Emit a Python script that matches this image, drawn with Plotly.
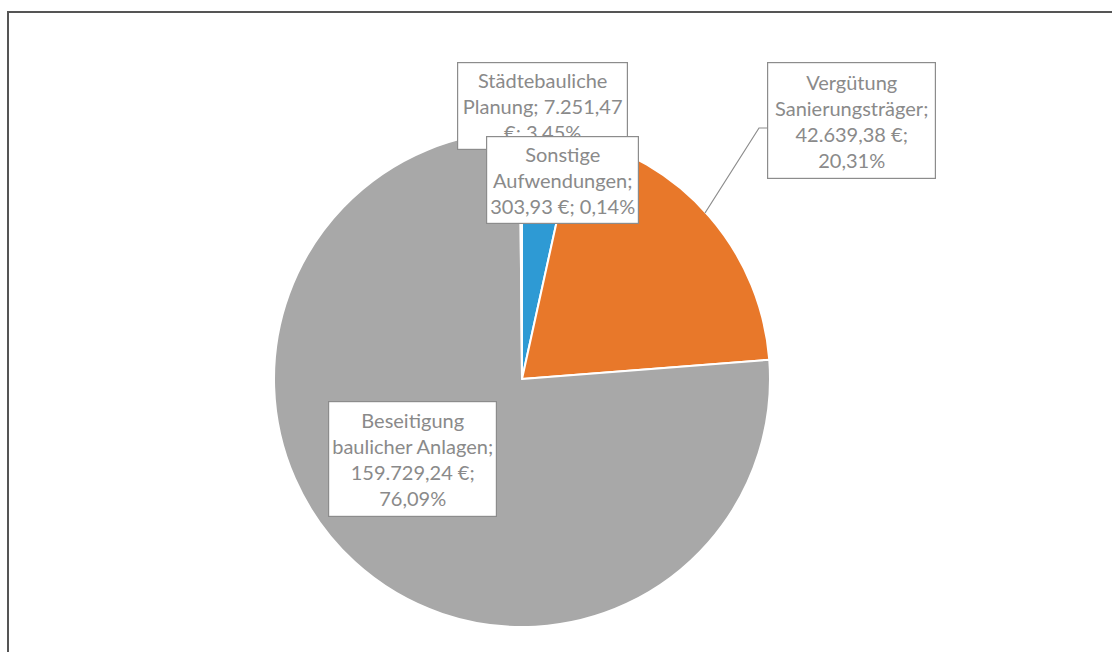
import plotly.graph_objects as go

# ---- data ----
categories = ["Städtebauliche Planung", "Vergütung Sanierungsträger",
              "Beseitigung baulicher Anlagen", "Sonstige Aufwendungen"]
values = [7251.47, 42639.38, 159729.24, 303.93]
colors = ["#2E9AD4", "#E8782A", "#A8A8A8", "#F2C12E"]

# line layout of each data label ({v} = value, {p} = percent)
label_templates = [
    "Städtebauliche<br>Planung; {v}<br>€; {p}",
    "Vergütung<br>Sanierungsträger;<br>{v} €;<br>{p}",
    "Beseitigung<br>baulicher Anlagen;<br>{v} €;<br>{p}",
    "Sonstige<br>Aufwendungen;<br>{v} €; {p}",
]
# label box geometry in pixels: centre x, centre y, width, height
label_boxes = [
    (542.5, 106, 169, 86),
    (851.5, 120.5, 167, 115),
    (412.5, 459, 167, 114),
    (562.5, 180, 151, 86),
]

W, H = 1112, 652


def de_num(x, dec=2):
    s = f"{x:,.{dec}f}"
    return s.replace(",", "X").replace(".", ",").replace("X", ".")


total = sum(values)
texts = []
for v, tpl in zip(values, label_templates):
    texts.append(tpl.format(v=de_num(v), p=de_num(v / total * 100) + "%"))

fig = go.Figure()
cx, cy, r = 522, 379, 248
fig.add_trace(go.Pie(
    labels=categories, values=values, sort=False, direction="clockwise",
    rotation=0, textinfo="none", hoverinfo="label+value+percent",
    marker=dict(colors=colors, line=dict(color="white", width=2)),
    domain=dict(x=[(cx - r) / W, (cx + r) / W], y=[1 - (cy + r) / H, 1 - (cy - r) / H]),
    showlegend=False,
))

annotations = []
for t, (bx, by, bw, bh) in zip(texts, label_boxes):
    annotations.append(dict(
        text=t, x=bx / W, y=1 - by / H, xref="paper", yref="paper",
        xanchor="center", yanchor="middle", showarrow=False,
        width=bw, height=bh, align="center", valign="middle",
        bgcolor="white", bordercolor="#8C8C8C", borderwidth=1.2, borderpad=0,
        font=dict(family="Lato, Noto Sans, sans-serif", size=20, color="#8A8A8A"),
    ))

shapes = [
    # chart area border (runs off the right and bottom edges)
    dict(type="rect", xref="paper", yref="paper",
         x0=8 / W, y0=-0.02, x1=1.02, y1=1 - 12 / H,
         line=dict(color="#555555", width=2), fillcolor="rgba(0,0,0,0)", layer="below"),
    # leader line for the Vergütung label
    dict(type="path", xref="paper", yref="paper",
         path=f"M {767 / W},{1 - 128 / H} L {759 / W},{1 - 128 / H} L {705 / W},{1 - 213 / H}",
         line=dict(color="#8C8C8C", width=1.2)),
]

fig.update_layout(
    width=W, height=H, margin=dict(l=0, r=0, t=0, b=0),
    paper_bgcolor="white", plot_bgcolor="white",
    annotations=annotations, shapes=shapes,
)

fig.write_html("out.html", config={"displayModeBar": False},
               post_script="document.body.style.margin='0';")
